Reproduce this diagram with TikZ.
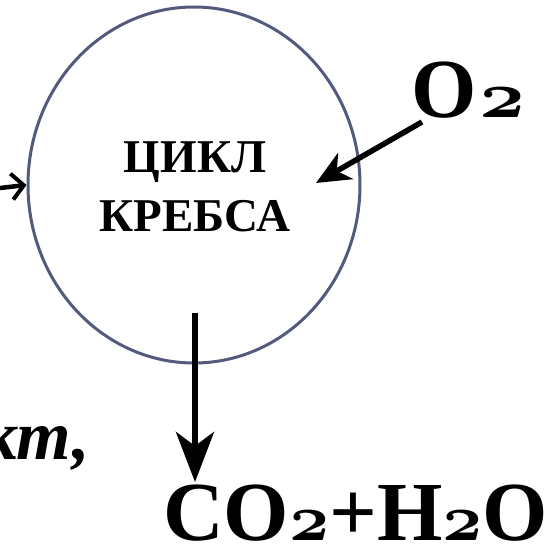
\documentclass[tikz,border=0pt]{standalone}
\usepackage{fontspec}
\setmainfont{Liberation Serif}
\usetikzlibrary{arrows.meta,shapes.geometric}
\definecolor{ringcol}{HTML}{535A7E}
\newcommand{\osn}[1][7]{\scalebox{#1}[6.6]{\fontsize{10}{12}\selectfont\boldmath$\mathnormal{2}$}}
\begin{document}
\begin{tikzpicture}[x=1pt,y=-1pt,
  bigtxt/.style={font=\fontsize{84}{90}\selectfont\bfseries, inner sep=0pt, anchor=base west, text depth=0pt},
  flow/.style={line width=6pt, -{Stealth[length=50pt,width=38pt,inset=14pt]}},
  flowb/.style={line width=5.5pt, -{Stealth[length=34pt,width=30pt,inset=10pt]}}]
\clip (0,0) rectangle (558,548);
\useasboundingbox (0,0) rectangle (558,548);
\node[draw=ringcol, line width=3pt, ellipse, minimum width=332pt, minimum height=356pt, inner sep=0pt] (ring) at (194,185) {};
\node[font=\fontsize{47}{59}\selectfont\bfseries, align=center, inner sep=0pt, anchor=base] (krebs) at (195,232) {ЦИКЛ\\КРЕБСА};
\node[bigtxt] (o2) at (411,118) {O\hspace{3pt}\osn[8]};
\node[bigtxt] (prod) at (163,541) {CO\osn+H\osn O};
\node[font=\fontsize{70}{80}\selectfont\bfseries\itshape, inner sep=0pt, anchor=base east] (kt) at (90,460) {кт,};
\coordinate (lin) at (0,188);
\coordinate (o2s) at (422,122);
\coordinate (o2t) at (316,183);
\coordinate (ds) at (195,313);
\coordinate (dt) at (195,482);
\draw[line width=4.5pt, -{Straight Barb[length=12pt,width=26pt,line width=4pt]}] (lin) -- (ring.west);
\draw[flowb] (o2s) -- (o2t);
\draw[flow] (ds) -- (dt);
\end{tikzpicture}
\end{document}
